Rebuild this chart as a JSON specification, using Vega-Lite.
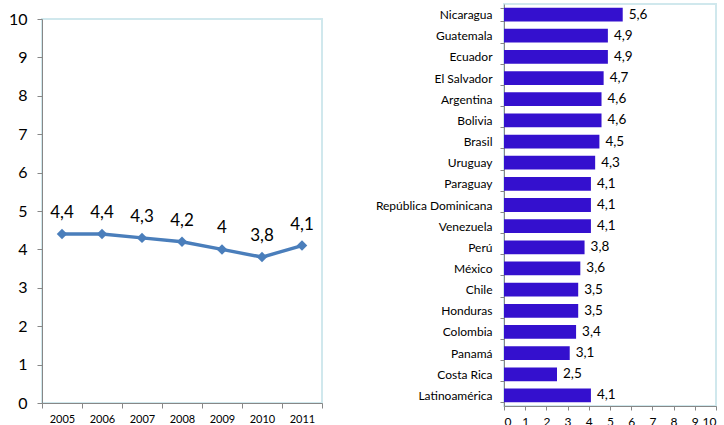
{
  "$schema": "https://vega.github.io/schema/vega-lite/v6.json",
  "padding": {"left": 7, "top": -3, "right": 0, "bottom": 0},
  "background": "white",
  "config": {
    "font": "Lato",
    "locale": {"number": {"decimal": ",", "thousands": ".", "grouping": [3], "currency": ["", " €"]}},
    "view": {"stroke": "#D0E8ED", "strokeWidth": 2},
    "axis": {"domainColor": "#878787", "tickColor": "#878787", "labelColor": "#000000", "grid": false, "labelFont": "Lato"}
  },
  "hconcat": [
    {
      "vconcat": [
        {
          "width": 280,
          "height": 6,
          "view": {"stroke": null},
          "data": {"values": []},
          "mark": {"type": "point", "opacity": 0},
          "encoding": {}
        },
        {
          "width": 280,
          "height": 384,
          "data": {"values": [
            {"year": 2005, "value": 4.4},
            {"year": 2006, "value": 4.4},
            {"year": 2007, "value": 4.3},
            {"year": 2008, "value": 4.2},
            {"year": 2009, "value": 4.0},
            {"year": 2010, "value": 3.8},
            {"year": 2011, "value": 4.1}
          ]},
          "encoding": {
            "x": {"field": "year", "type": "ordinal", "scale": {"type": "band", "paddingInner": 0, "paddingOuter": 0},
                  "axis": {"title": null, "labelAngle": 0, "tickBand": "extent", "labelFontSize": 11, "tickSize": 5, "labelPadding": 5}},
            "y": {"field": "value", "type": "quantitative", "scale": {"domain": [0, 10], "nice": false},
                  "axis": {"title": null, "values": [0, 1, 2, 3, 4, 5, 6, 7, 8, 9, 10], "labelFontSize": 16, "tickSize": 5, "labelPadding": 10}}
          },
          "layer": [
            {"mark": {"type": "line", "color": "#4A7EBB", "strokeWidth": 3.5}},
            {"mark": {"type": "point", "shape": "diamond", "filled": true, "size": 110, "color": "#4A7EBB", "opacity": 1}},
            {"mark": {"type": "text", "fontSize": 17, "dy": -21, "color": "#000000"},
             "encoding": {"text": {"field": "value", "type": "quantitative", "format": ".2~r"}}}
          ]
        }
      ],
      "spacing": 0
    },
    {
      "width": 212,
      "height": 402,
      "data": {"values": [
        {"country": "Nicaragua", "value": 5.6},
        {"country": "Guatemala", "value": 4.9},
        {"country": "Ecuador", "value": 4.9},
        {"country": "El Salvador", "value": 4.7},
        {"country": "Argentina", "value": 4.6},
        {"country": "Bolivia", "value": 4.6},
        {"country": "Brasil", "value": 4.5},
        {"country": "Uruguay", "value": 4.3},
        {"country": "Paraguay", "value": 4.1},
        {"country": "República Dominicana", "value": 4.1},
        {"country": "Venezuela", "value": 4.1},
        {"country": "Perú", "value": 3.8},
        {"country": "México", "value": 3.6},
        {"country": "Chile", "value": 3.5},
        {"country": "Honduras", "value": 3.5},
        {"country": "Colombia", "value": 3.4},
        {"country": "Panamá", "value": 3.1},
        {"country": "Costa Rica", "value": 2.5},
        {"country": "Latinoamérica", "value": 4.1}
      ]},
      "encoding": {
        "y": {"field": "country", "type": "nominal", "sort": null, "scale": {"paddingInner": 0.35, "paddingOuter": 0.175},
              "axis": {"title": null, "labelFontSize": 12, "tickSize": 4, "labelPadding": 8, "tickBand": "extent"}},
        "x": {"field": "value", "type": "quantitative", "scale": {"domain": [0, 10], "nice": false},
              "axis": {"title": null, "values": [0, 1, 2, 3, 4, 5, 6, 7, 8, 9, 10], "tickSize": 4, "labelFontSize": 12, "labelPadding": 6}}
      },
      "layer": [
        {"mark": {"type": "bar", "color": "#3410CE"}},
        {"mark": {"type": "text", "align": "left", "dx": 6, "fontSize": 13.5, "color": "#000000"},
         "encoding": {"text": {"field": "value", "type": "quantitative", "format": ".2~r"}}}
      ]
    }
  ],
  "spacing": 50
}
